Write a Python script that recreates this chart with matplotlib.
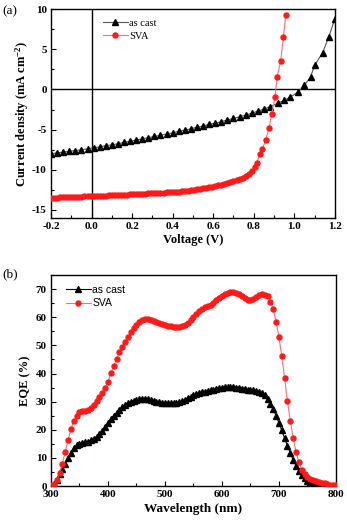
import matplotlib
matplotlib.use("Agg")
import matplotlib.pyplot as plt
from matplotlib.ticker import MultipleLocator

plt.rcParams["mathtext.fontset"] = "custom"
plt.rcParams["mathtext.rm"] = "Liberation Serif:bold"
plt.rcParams["mathtext.bf"] = "Liberation Serif:bold"
plt.rcParams["mathtext.it"] = "Liberation Serif:bold:italic"
plt.rcParams["axes.unicode_minus"] = False

# ---------------- data: J-V ----------------
v_cast = [-0.20, -0.17, -0.14, -0.11, -0.08, -0.05, -0.02, 0.01, 0.04, 0.07,
          0.10, 0.13, 0.16, 0.19, 0.22, 0.25, 0.28, 0.31, 0.34, 0.37,
          0.40, 0.43, 0.46, 0.49, 0.52, 0.55, 0.58, 0.61, 0.64, 0.67,
          0.70, 0.73, 0.76, 0.79, 0.82, 0.85, 0.88, 0.92, 0.95, 0.98,
          1.02, 1.05, 1.08, 1.10, 1.14, 1.17, 1.20]
j_cast = [-8.0, -7.9, -7.8, -7.7, -7.6, -7.5, -7.4, -7.25, -7.15, -7.0,
          -6.9, -6.75, -6.6, -6.45, -6.3, -6.15, -6.0, -5.85, -5.7, -5.55,
          -5.4, -5.2, -5.05, -4.9, -4.7, -4.55, -4.35, -4.2, -4.0, -3.8,
          -3.6, -3.4, -3.2, -2.95, -2.7, -2.45, -2.15, -1.7, -1.35, -0.95,
          -0.3, 0.55, 1.55, 3.0, 4.6, 6.55, 8.8]

v_sva = [-0.200, -0.185, -0.170, -0.155, -0.140, -0.125, -0.110, -0.095, -0.080, -0.065,
         -0.050, -0.035, -0.020, -0.005, 0.010, 0.025, 0.040, 0.055, 0.070, 0.085,
         0.100, 0.115, 0.130, 0.145, 0.160, 0.175, 0.190, 0.205, 0.220, 0.235,
         0.250, 0.265, 0.280, 0.295, 0.310, 0.325, 0.340, 0.355, 0.370, 0.385,
         0.400, 0.415, 0.430, 0.445, 0.460, 0.475, 0.490, 0.505, 0.520, 0.535,
         0.550, 0.565, 0.580, 0.595, 0.610, 0.625, 0.640, 0.655, 0.670, 0.685,
         0.700, 0.715, 0.730, 0.745, 0.760, 0.777, 0.789, 0.805, 0.816, 0.830,
         0.843, 0.859, 0.875, 0.889, 0.905, 0.916, 0.933, 0.946, 0.958]
j_sva = [-13.48, -13.47, -13.46, -13.45, -13.44, -13.43, -13.41, -13.40, -13.38, -13.36,
         -13.34, -13.32, -13.30, -13.28, -13.26, -13.25, -13.24, -13.23, -13.21, -13.20,
         -13.18, -13.16, -13.14, -13.12, -13.10, -13.08, -13.06, -13.04, -13.02, -13.00,
         -12.98, -12.96, -12.94, -12.92, -12.90, -12.88, -12.86, -12.84, -12.82, -12.80,
         -12.77, -12.74, -12.71, -12.68, -12.64, -12.60, -12.55, -12.50, -12.44, -12.38,
         -12.32, -12.26, -12.19, -12.11, -12.03, -11.95, -11.86, -11.77, -11.67, -11.56,
         -11.44, -11.31, -11.16, -10.98, -10.78, -10.50, -10.20, -9.60, -9.10, -8.05,
         -7.40, -6.25, -4.80, -3.10, -0.90, 1.60, 3.60, 6.50, 9.30]

# ---------------- data: EQE ----------------
wl = [300, 305, 310, 315, 320, 325, 330, 335, 340, 345,
      350, 355, 360, 365, 370, 375, 380, 385, 390, 395,
      400, 405, 410, 415, 420, 425, 430, 435, 440, 445,
      450, 455, 460, 465, 470, 475, 480, 485, 490, 495,
      500, 505, 510, 515, 520, 525, 530, 535, 540, 545,
      550, 555, 560, 565, 570, 575, 580, 585, 590, 595,
      600, 605, 610, 615, 620, 625, 630, 635, 640, 645,
      650, 655, 660, 665, 670, 675, 680, 685, 690, 695,
      700, 705, 710, 715, 720, 725, 730, 735, 740, 745,
      750, 755, 760, 765, 770, 775, 780, 785, 790, 795, 800]
eqe_sva = [0.2, 0.5, 2.0, 4.5, 8.0, 12.2, 16.5, 20.2, 23.0, 25.0,
           26.2, 26.8, 26.5, 27.0, 27.8, 28.8, 30.2, 31.6, 33.2, 34.8,
           37.0, 40.2, 42.6, 45.2, 47.6, 49.6, 51.3, 53.0, 54.6, 56.1,
           57.4, 58.4, 59.0, 59.3, 59.3, 59.1, 58.8, 58.4, 58.0, 57.6,
           57.3, 57.0, 56.8, 56.7, 56.6, 56.6, 56.8, 57.3, 58.0, 59.0,
           60.2, 61.3, 62.3, 63.0, 63.6, 64.0, 64.5, 65.2, 66.0, 66.8,
           67.6, 68.3, 68.8, 69.1, 69.1, 68.8, 68.3, 67.5, 66.8, 66.3,
           66.2, 66.6, 67.3, 67.9, 68.2, 68.1, 67.7, 65.6, 62.8, 58.4,
           53.0, 46.2, 38.3, 30.1, 23.1, 17.2, 12.2, 8.5, 5.7, 4.3,
           3.2, 2.6, 2.1, 1.7, 1.4, 1.2, 1.0, 0.7, 0.4, 0.3, 0.2]
eqe_cast = [0.1, 0.6, 2.2, 4.3, 6.0, 7.8, 9.8, 11.9, 13.5, 14.5,
            15.0, 15.3, 15.5, 15.8, 16.2, 16.8, 17.6, 18.5, 19.6, 21.0,
            22.5, 23.8, 25.0, 26.1, 27.2, 28.0, 28.8, 29.4, 30.0, 30.4,
            30.7, 30.9, 31.0, 31.0, 30.9, 30.6, 30.3, 30.0, 29.8, 29.6,
            29.5, 29.4, 29.4, 29.5, 29.6, 29.8, 30.2, 30.7, 31.3, 31.8,
            32.3, 32.7, 33.0, 33.3, 33.6, 33.8, 34.0, 34.2, 34.5, 34.8,
            35.0, 35.2, 35.3, 35.3, 35.2, 35.0, 34.8, 34.6, 34.4, 34.3,
            34.2, 34.1, 33.9, 33.6, 33.1, 32.3, 31.0, 29.3, 27.3, 25.0,
            22.5, 19.8, 17.0, 14.3, 11.7, 9.3, 7.2, 5.4, 3.9, 2.7,
            1.8, 1.1, 0.7, 0.4, 0.2, 0.1, 0.1, 0.0, 0.0, 0.0, 0.0]

series_labels = ["as cast", "SVA"]

SERIF = ["Liberation Serif", "DejaVu Serif"]
SANS = ["Liberation Sans", "DejaVu Sans"]

fig = plt.figure(figsize=(3.47, 5.26), dpi=100)
ax1 = fig.add_axes([0.147, 0.5856, 0.818, 0.397])
ax2 = fig.add_axes([0.147, 0.076, 0.821, 0.401])

RED = "#ff1a1a"
LRED = "#ff6f6f"

# ---- panel (a)
ax1.axhline(0, color="black", lw=1.0, zorder=1)
ax1.axvline(0, color="black", lw=1.0, zorder=1)
ax1.plot(v_cast, j_cast, color="#555555", lw=0.8, marker="^", ms=4.2,
         mfc="black", mec="black", label=series_labels[0], zorder=3)
ax1.plot(v_sva, j_sva, color=LRED, lw=0.8, marker="o", ms=3.6,
         mfc=RED, mec=RED, label=series_labels[1], zorder=3)
ax1.set_xlim(-0.2, 1.2)
ax1.set_ylim(-16, 10)
ax1.xaxis.set_minor_locator(MultipleLocator(0.1))
ax1.yaxis.set_minor_locator(MultipleLocator(2.5))
ax1.set_xticks([-0.2, 0.0, 0.2, 0.4, 0.6, 0.8, 1.0, 1.2])
ax1.set_xticklabels(["-0.2", "0.0", "0.2", "0.4", "0.6", "0.8", "1.0", "1.2"])
ax1.set_yticks([-15, -10, -5, 0, 5, 10])
ax1.set_yticklabels(["-15", "-10", "-5", "0", "5", "10"])
ax1.set_xlabel("Voltage (V)", fontfamily=SERIF, fontweight="bold", fontsize=9, labelpad=2)
ax1.set_ylabel("Current density (mA cm$^{-2}$)", fontfamily=SERIF,
               fontweight="bold", fontsize=9, labelpad=1)
ax1.legend(loc="upper left", bbox_to_anchor=(0.16, 0.985), frameon=False,
           prop={"family": SERIF, "size": 7.5}, handlelength=2.4,
           handletextpad=0.15, labelspacing=0.35, borderaxespad=0.2)

# ---- panel (b)
ax2.plot(wl, eqe_cast, color="black", lw=0.8, marker="^", ms=4.0,
         mfc="black", mec="black", label=series_labels[0], zorder=3)
ax2.plot(wl, eqe_sva, color=LRED, lw=0.8, marker="o", ms=3.6,
         mfc=RED, mec=RED, label=series_labels[1], zorder=3)
ax2.set_xlim(300, 800)
ax2.set_ylim(0, 75)
ax2.xaxis.set_major_locator(MultipleLocator(100))
ax2.xaxis.set_minor_locator(MultipleLocator(50))
ax2.yaxis.set_major_locator(MultipleLocator(10))
ax2.yaxis.set_minor_locator(MultipleLocator(5))
ax2.set_xlabel("Wavelength (nm)", fontfamily=SERIF, fontweight="bold", fontsize=9.5, labelpad=3)
ax2.set_ylabel("EQE (%)", fontfamily=SERIF, fontweight="bold", fontsize=9, labelpad=3)
ax2.legend(loc="upper left", bbox_to_anchor=(0.03, 0.985), frameon=False,
           prop={"family": SANS, "size": 7.5}, handlelength=2.4,
           handletextpad=0.15, labelspacing=0.35, borderaxespad=0.2)

for ax in (ax1, ax2):
    for s in ax.spines.values():
        s.set_linewidth(1.0)
    ax.tick_params(which="both", direction="in", top=False, right=False,
                   width=0.8, pad=3)
    ax.tick_params(which="major", length=3.5)
    ax.tick_params(which="minor", length=2)
    for lab in ax.get_xticklabels() + ax.get_yticklabels():
        lab.set_fontfamily(SERIF)
        lab.set_fontweight("bold")
        lab.set_fontsize(8)

fig.text(0.006, 0.978, "(a)", fontfamily=SERIF, fontsize=9.5, va="center", ha="left")
fig.text(0.006, 0.478, "(b)", fontfamily=SERIF, fontsize=9.5, va="center", ha="left")

fig.savefig("out.png", dpi=100)
